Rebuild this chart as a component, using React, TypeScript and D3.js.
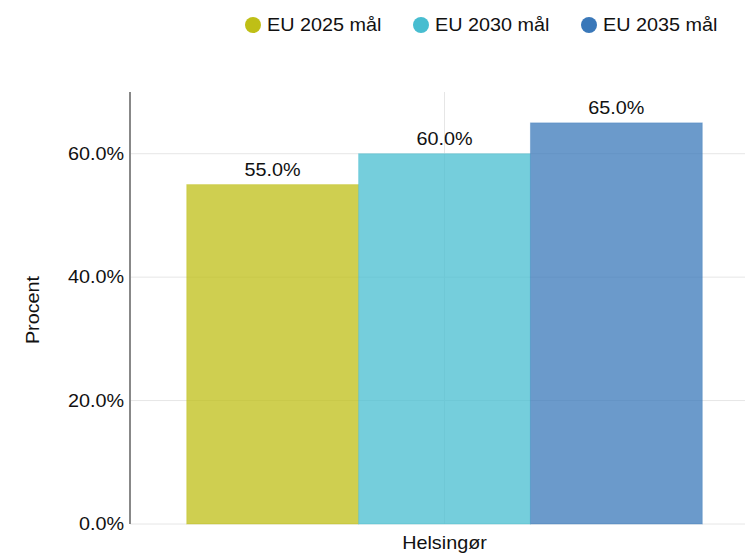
import React from 'react';
import * as d3 from 'd3';

const categories = ['Helsingør'];
const seriesNames = ['EU 2025 mål', 'EU 2030 mål', 'EU 2035 mål'];
const seriesValues = [[0.55], [0.6], [0.65]];
const seriesColors = ['#bfbf16', '#47bdd0', '#3a78b9'];
const yTicks = [0, 0.2, 0.4, 0.6];

const width = 745;
const height = 553;
const margin = { top: 92, right: -14, bottom: 29, left: 130 };
const font = '"Liberation Sans", Arial, sans-serif';
const fontSize = 18;
const stretch = 1.1; // the reference text is a little wide

// text with a slight horizontal stretch
const Txt = ({ x, y, anchor = 'start', rotate = 0, children }: any) => (
  <text transform={`translate(${x},${y}) rotate(${rotate}) scale(${stretch},1)`}
    textAnchor={anchor} dy="0.35em" fontSize={fontSize} fill="#111">{children}</text>
);

export default function App() {
  const x = d3.scaleBand<string>()
    .domain(categories)
    .range([margin.left, width - margin.right])
    .paddingInner(0)
    .paddingOuter(0.11);
  const xInner = d3.scaleBand<string>()
    .domain(seriesNames)
    .range([0, x.bandwidth()])
    .padding(0);
  const y = d3.scaleLinear()
    .domain([0, 0.7])
    .range([height - margin.bottom, margin.top]);
  const fmt = d3.format('.1%');

  const legendX = [253, 421, 589];

  return (
    <svg width={width} height={height} style={{ position: 'absolute', left: 0, top: 0, fontFamily: font }}>
      {/* legend */}
      {seriesNames.map((s, i) => (
        <g key={s}>
          <circle cx={legendX[i]} cy={25} r={8} fill={seriesColors[i]} />
          <Txt x={legendX[i] + 14} y={25}>{s}</Txt>
        </g>
      ))}

      {/* grid */}
      {yTicks.map(t => (
        <line key={t} x1={margin.left} x2={width} y1={y(t)} y2={y(t)} stroke="#e6e6e6" strokeWidth={1} />
      ))}
      {categories.map(c => (
        <line key={c} x1={x(c)! + x.bandwidth() / 2} x2={x(c)! + x.bandwidth() / 2}
          y1={margin.top} y2={y(0)} stroke="#e6e6e6" strokeWidth={1} />
      ))}

      {/* bars */}
      {categories.map((c, ci) => (
        <g key={c} transform={`translate(${x(c)},0)`}>
          {seriesNames.map((s, si) => {
            const v = seriesValues[si][ci];
            const bx = xInner(s)!;
            return (
              <g key={s}>
                <rect x={bx} y={y(v)} width={xInner.bandwidth()} height={y(0) - y(v)}
                  fill={seriesColors[si]} fillOpacity={0.75}
                  stroke={seriesColors[si]} strokeOpacity={0.35} strokeWidth={1} />
                <Txt x={bx + xInner.bandwidth() / 2} y={y(v) - 15} anchor="middle">{fmt(v)}</Txt>
              </g>
            );
          })}
        </g>
      ))}

      {/* y axis */}
      <line x1={margin.left} x2={margin.left} y1={margin.top} y2={y(0)} stroke="#888" strokeWidth={2} />
      {yTicks.map(t => (
        <Txt key={t} x={margin.left - 6} y={y(t)} anchor="end">{fmt(t)}</Txt>
      ))}
      <Txt x={33} y={(margin.top + y(0)) / 2 + 2} anchor="middle" rotate={-90}>Procent</Txt>

      {/* x labels */}
      {categories.map(c => (
        <Txt key={c} x={x(c)! + x.bandwidth() / 2} y={543} anchor="middle">{c}</Txt>
      ))}
    </svg>
  );
}
